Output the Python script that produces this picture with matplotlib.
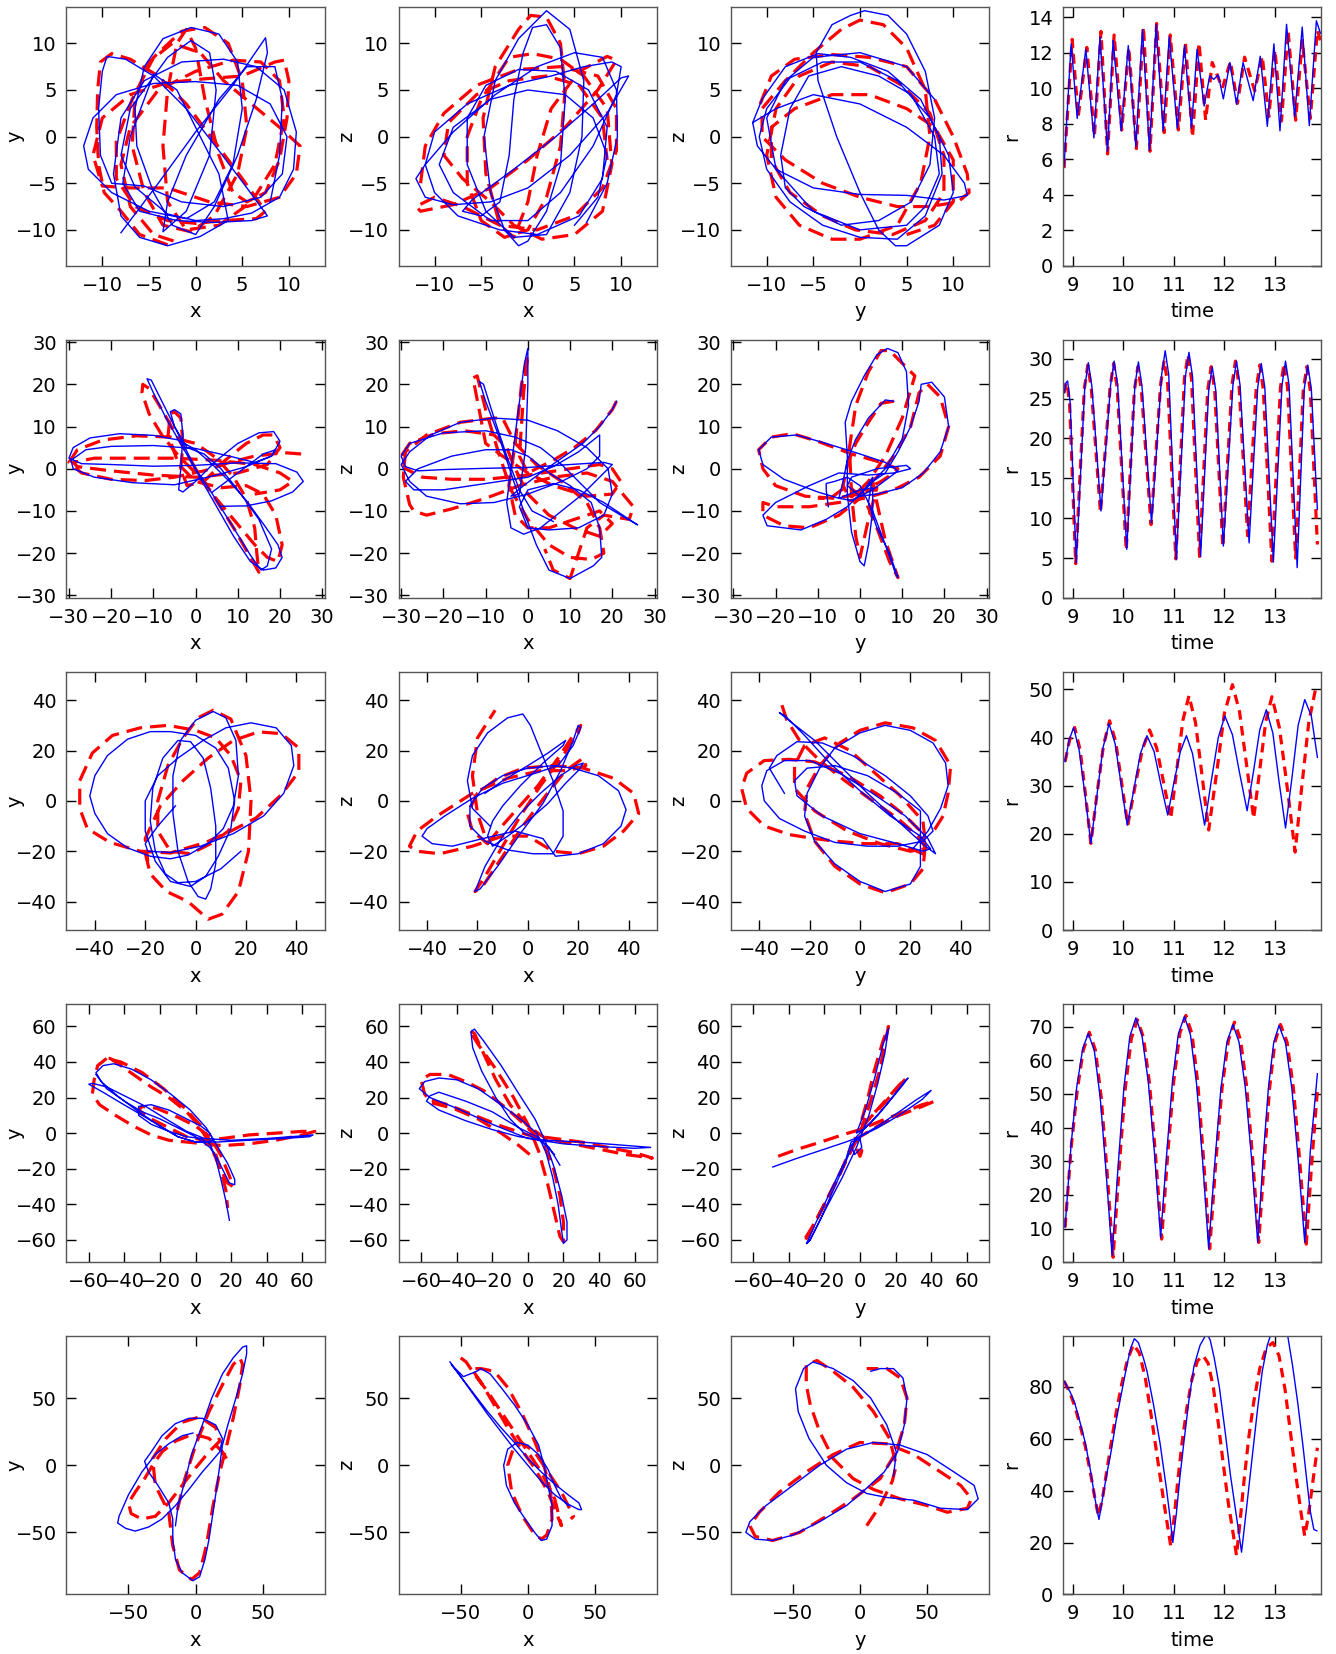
import matplotlib
matplotlib.use('Agg')
import matplotlib.pyplot as plt
import numpy as np

# ---------------- row 1 ----------------
xy_blue_1 = [(-8,-10.3),(-4,-5),(0,0.5),(4,5.5),(7.5,10.6),(7.7,9),(6.5,4),(4.5,-2),(2,-7.5),(0,-10.5),(-2.5,-9.5),(-4.5,-6),(-6.3,-1),(-6.5,3),(-5.5,7.5),(-3.5,10.5),(-0.5,11.7),(2.5,11),(4.5,8),(5,3),(4,-3),(2,-7),(-1,-8.8),(-5,-8),(-9,-6),(-11.5,-3.5),(-12,-1),(-11,2),(-8.5,4.5),(-4.5,5.7),(0,5.9),(4.5,5.5),(8,3.5),(9.8,0),(9.3,-4),(7,-6.5),(3,-7.5),(-1.5,-7),(-5.5,-5.3),(-9,-5),(-10.2,-2),(-10.4,3),(-10,7),(-9.5,8.6),(-7.5,8.3),(-4.5,6.5),(-1,3),(2.5,-1.5),(5.5,-5.5),(7.7,-8.5),(6,-9),(2,-9.2),(-2,-9),(-6,-8),(-7.8,-5),(-7,0),(-4.5,6.7),(-2,5),(0.5,0),(2.5,-4),(3.5,-9),(0.5,-10.7),(-3,-11.7),(-6,-10.8),(-8,-8.5),(-8.8,-4),(-8,2),(-5.5,6),(-1.5,8),(3,8.3),(6.5,7.5),(9.5,5),(10.8,0.5),(10.5,-3.5),(9,-6.5),(6,-8.2),(3,-8.8),(0,-9),(-3,-8.3),(-6.5,-5.4),(-8,-2),(-7,3),(-3,8.5),(-0.5,10.3),(1.5,9),(2.2,5),(1.5,-2),(-1,-8),(-3.5,-10.2),(-3,-7),(-1,-2),(2.5,4),(5.5,7.5),(8.5,7.5),(9.3,4),(9,-2),(8,-7)]
xy_red_1 = [(-3,-11.6),(-6,-10.5),(-8,-8),(-9.8,-6),(-10.4,-3),(-10.6,1),(-10.5,5),(-10.2,8),(-9,8.9),(-7,8.3),(-4,6.5),(-1,3.5),(2,-0.5),(5,-4.5),(7.5,-8),(6.5,-8.8),(3,-9),(0,-9.3),(-3,-9),(-6.5,-7.5),(-8.5,-4.5),(-8.5,-0.5),(-6.8,4),(-4.5,8.5),(-1.5,11.3),(1,11.7),(3.5,10),(5,6),(5.5,1),(4.5,-4),(2,-8.5),(-0.5,-10.2),(-3.5,-9.5),(-5.5,-6),(-6.8,-1),(-6.5,4),(-5,8),(-2.5,10),(0.5,9),(3,6),(6,3.5),(9,1),(11.2,-1),(10.8,-4),(9,-6.5),(5.5,-7.5),(1.5,-7),(-3,-5.5),(-7,-5.5),(-10,-5.3),(-11,-2),(-10,2),(-7,4.5),(-3,5.8),(1,6.2),(5,6.5),(8.5,8),(9.5,8.2),(10,6),(9.8,2),(9,-2.5),(7.5,-6),(5.5,-7),(4,-6),(2.5,-2),(1,4),(0,9.5),(-1,11.5),(-2,10),(-3,5),(-3.5,-1),(-3,-7),(-1,-10),(2.5,-9.5),(6,-7),(8.5,-3),(9.5,2),(9,6),(7,8),(4,8.2),(0,7),(-4,5),(-7,1),(-8,-3),(-7,-7.5),(-4.5,-10.5),(-2,-11.3)]
xz_blue_1 = [(6.3,-9.2),(8.5,-5),(9.6,0),(9.5,5),(8,8.5),(5,9),(1,7.5),(-3.5,4.5),(-8,0.5),(-11,-3),(-12,-4.5),(-11,-6.5),(-8,-7.3),(-4,-7),(0,-5.5),(4.5,-2),(8.5,2.5),(10.8,6.5),(10,6.3),(7,3.5),(3,0),(-1.5,-3.5),(-6,-6.8),(-7,-8),(-5,-8.5),(-3,-7),(-2,-2),(-1.5,4),(-0.5,9),(0.5,11.7),(2,12),(3.5,9.5),(4,4),(3.5,-3),(2,-8),(0,-11.2),(-1,-11.7),(-2.5,-10),(-4,-6),(-4.7,0),(-3.5,6),(-1,10.5),(2,13.5),(4.5,11.5),(6,6),(5.8,0),(4.5,-6),(2,-10.5),(-1.5,-10.8),(-4.5,-8),(-6.5,-3),(-6.5,2),(-4.5,5.5),(-1,7.2),(3,7),(6.5,5),(8.5,1),(8,-4.5),(5.5,-8.5),(1,-10.5),(-3,-10),(-7.5,-8.5),(-10,-6),(-11,-3),(-10,0.5),(-6.5,3.5),(-2,5.5),(2.5,6.5),(6,7.5),(9,8),(10,7.5),(9.5,4.5),(7,-1),(3.5,-6),(0,-9),(-4,-9),(-8,-6),(-9.5,-3),(-8,1),(-4,4),(0,5),(4,4.5),(7,2),(8.5,-2),(7.5,-6.5),(5,-9.5)]
xz_red_1 = [(-11.5,-5),(-11,-1),(-9,2.5),(-5.5,5.5),(-1,7.2),(3.5,7.5),(7.5,6.5),(9.5,3),(9.5,-1.5),(8,-5.5),(5,-8.5),(1,-10),(-3,-9.5),(-7,-7.5),(-10,-6.5),(-12,-7.5),(-11.5,-8),(-8,-7.3),(-4,-5.5),(0,-2.5),(4,1),(7.5,5),(9.5,8.2),(8.5,8.6),(5.5,7),(2.5,3),(1,-2),(0,-7),(-1.5,-10.8),(-3,-9.5),(-4.5,-4),(-4.8,2),(-3.5,7.5),(-1,11.5),(0.3,13),(2,12.8),(3.5,10),(4,5),(3.5,-1),(2,-6.5),(0,-10),(-2.5,-10.8),(-5,-9),(-6.5,-5),(-6.5,0),(-5,4),(-2,8.5),(0.5,8.9),(3.5,8.3),(6,6.5),(8.5,3),(9,-3),(8,-8),(5,-10.5),(1.5,-11),(-1.5,-9.5),(-4,-7),(-7,-4.5),(-9,-2),(-8.5,1.5),(-5.5,4.5),(-2,6),(2,6.5),(5.5,5.5),(8,2),(8.5,-2.5)]
yz_blue_1 = [(-11.5,1.5),(-11,-1),(-9,-3.5),(-5,-5.5),(0,-6.2),(5,-6.3),(9,-6.8),(11.5,-6.3),(11.2,-5),(9,-2),(5,1),(0,3.5),(-5,4.5),(-9,3),(-11.5,1.5),(-10.5,4),(-8,7.5),(-4.5,8.9),(-1,8.5),(3,7),(6.5,4),(8.5,0),(8.8,-4),(7,-8.5),(4,-11),(0,-10.8),(-4,-9.5),(-7.5,-7),(-10,-3.5),(-10.8,0),(-10,3),(-7.5,6.3),(-4,8),(0,8),(4,6),(7.5,2),(9.5,-2),(10,-6),(8.5,-9.5),(5,-11.7),(3.8,-11.7),(2,-10),(0,-6),(-2.5,0),(-4.5,6),(-4.7,9),(-3,12),(-1,13),(0.5,13.5),(3,13),(5,11),(7,7),(8,2),(7.5,-3),(5.5,-7),(2,-9),(-2,-9.5),(-6,-7.5),(-8,-5.5),(-8.5,-2),(-7.5,3),(-5.5,6.5),(-2,7.5),(2,6.5),(5.5,4.5),(8,0),(8.5,-4),(7,-7.5),(5,-9.5),(0,-10),(-5,-8),(-9,-3.5),(-10,2),(-8,6),(-5,8.5),(0,9),(5,7.5),(8,4)]
yz_red_1 = [(-10.7,3.5),(-9.5,6.5),(-7,8.3),(-3,8.8),(1,8.5),(5,7.5),(8,4),(10,0),(11.5,-4),(11.7,-6),(10.5,-7),(7.5,-7.5),(4,-7.5),(0,-6.5),(-4,-5),(-8,-2.5),(-10.5,0),(-10.5,3),(-8,6),(-5,9),(-2,11.5),(0,12.5),(2.5,12),(5,9.5),(7,5),(7.5,0),(6.5,-5),(4,-9.5),(0,-11),(-3,-11),(-6.5,-9.5),(-9,-6.5),(-10,-2),(-9,3),(-6.5,6.5),(-3,8),(1,7.5),(4.5,5.5),(7.5,2.5),(9,-2),(9,-6),(7,-9),(3.5,-10.5),(-0.5,-10),(-4,-8.5),(-7.5,-6),(-9.5,-2.5),(-9.5,1),(-7,3),(-3,4.5),(1,4.5),(5,3),(8,1),(10,-2.5),(10,-7),(8,-9.5),(5,-10.5)]
t_blue_1 = [8.83,8.97,9.09,9.26,9.42,9.54,9.69,9.80,9.96,10.10,10.25,10.38,10.52,10.65,10.79,10.91,11.07,11.21,11.35,11.46,11.60,11.71,11.79,11.88,11.98,12.11,12.24,12.37,12.57,12.71,12.85,12.98,13.10,13.23,13.39,13.54,13.68,13.82,13.90]
r_blue_1 = [5.6,12.5,8.3,12.2,7.2,12.9,6.45,12.7,7.6,12.4,6.7,13.3,6.5,13.6,7.6,12.9,7.75,12.4,7.75,12.2,9.0,10.7,10.5,10.75,9.4,11.45,9.1,11.45,9.3,11.8,7.85,12.5,7.6,13.6,8.4,13.45,7.9,13.8,13.1]
t_red_1 = [8.83,8.99,9.11,9.28,9.43,9.56,9.69,9.82,9.97,10.11,10.26,10.40,10.53,10.66,10.81,10.93,11.09,11.23,11.37,11.50,11.63,11.76,11.96,12.12,12.26,12.40,12.60,12.75,12.88,13.00,13.13,13.26,13.41,13.54,13.70,13.84,13.90]
r_red_1 = [5.5,12.75,8.4,12.3,7.3,13.2,6.3,13.0,7.65,12.3,6.6,13.45,6.45,13.65,7.5,13.0,7.65,12.55,7.25,12.55,8.2,11.45,10.0,11.5,9.15,11.75,9.85,11.8,8.4,12.15,8.15,13.25,8.2,12.7,8.3,13.25,12.7]

# ---------------- row 2 ----------------
xy_blue_2 = [(5.8,-8.9),(12,-8.8),(18,-7.6),(23,-5.5),(25.5,-3),(24,-0.8),(19,1.2),(10,1.4),(0,0.8),(-10,0.6),(-20,1),(-27,1.2),(-30,2.5),(-29,5),(-25,7.3),(-18,8.3),(-10,7.9),(-4,6.8),(0,4.5),(4,1),(8,-3),(12,-7.5),(16,-13),(19.5,-18),(20.5,-21),(19,-23.5),(16,-24),(13,-22),(9,-16),(5,-9),(1,-2),(-3,5),(-7,12),(-10,18),(-11.5,21.3),(-10.5,21),(-8,16),(-4,8),(0,0),(4,-6),(9,-14),(13,-20.5),(15.5,-24),(17,-23),(18,-19),(15,-12),(10,-5),(6,0),(2,3.5),(-2,5),(-5,10),(-6,13.5),(-5,14),(-3.5,13),(-3,8),(-3.5,0),(-4,-5),(-3,-5.5),(0,-3),(5,2),(10,6),(15,8.5),(18.5,8.8),(20,6.5),(18,3),(12,0.5),(5,-1.5),(-5,-3.8),(-15,-3.3),(-24,-2),(-29,0),(-29.5,2),(-26,4.5),(-20,5.3),(-10,5.5),(0,4.8),(8,3),(14,1.5),(18,3),(19,4.5),(16,3.5),(10,-1),(4,-5.5)]
xy_red_2 = [(25,3.5),(21,3.8),(14,3),(8,1.5),(2,-0.5),(-5,-2),(-12,-2.8),(-20,-2.5),(-27,-1),(-30,1.5),(-28,4.5),(-22,6.8),(-14,7.8),(-6,7.5),(0,6),(5,2.5),(9,-2),(12,-7),(14,-14),(14.5,-20),(15,-24.5),(13,-21),(9,-14),(4,-6),(0,-1),(-4,3),(-8,8),(-11,13),(-12.7,18),(-12.5,20),(-11,19),(-8,14),(-4,7),(0,0),(4,-6),(9,-12),(14,-18),(17,-21),(19.5,-22),(20.5,-18),(19,-11),(16,-6),(12,-4),(6,-4.5),(0,-3),(-4,1),(-6.5,8),(-6,13),(-5,13.5),(-3.5,12),(-3,6),(-3.5,0),(-2,-4),(2,-3),(7,2),(12,6),(16,8),(18.5,8),(20,5),(17,1),(10,-1),(0,-2),(-10,-1.5),(-20,-0.5),(-28,0.5),(-29,1.5),(-24,2.5),(-15,2.5),(-5,2.5),(5,2),(14,1),(20,-1),(23,-3),(20,-5),(14,-6)]
xz_blue_2 = [(21,16),(20,14),(17,10),(13,6),(8,2.5),(3,-1),(-1,-4),(-4,-6.5),(-2,-6),(-0.5,5),(0,20),(0,28.5),(-0.8,25),(-2.5,12),(-4,0),(-5,-8),(-4,-14),(-1,-15.5),(3,-14),(8,-10),(13,-6),(18,-1),(20,1),(18,1.5),(10,1),(0,0.3),(-10,0.1),(-20,-0.2),(-26,-0.5),(-29,0.5),(-30,3),(-28,6),(-20,8.5),(-10,9),(-3,7.5),(3,5),(8,1),(12,-3),(17,-8),(22,-11),(26,-13.3),(24,-12),(18,-8),(12,-5),(6,-3.5),(0,-5),(-2,-9),(0,-14),(5,-14.5),(12,-14),(18,-11),(20,-6),(19,0),(14,5),(7,9),(0,11.5),(-8,12),(-16,11),(-23,8),(-28,4),(-30,1),(-28,-3),(-24,-6.5),(-16,-8.3),(-8,-8),(0,-6),(8,-3),(14,0),(17,3),(17,8),(12,4),(6,0.5),(0,-2),(-10,-3.5),(-20,-5),(-27,-5),(-29,-3),(-26,0),(-18,3),(-10,4.5),(-4,4.5),(0,3),(5,-1),(10,-4),(15,-8),(17,-14),(17.5,-21),(15.5,-23),(10,-26),(5,-24),(2,-18),(-1,-10),(-4,-1),(-7,8),(-10,16),(-11.5,20.7),(-10.5,20),(-8,12),(-5,3),(-2,-5),(1,-10),(6,-12.5)]
xz_red_2 = [(21,16),(20,14),(16,9),(11,5),(6,2),(0,-1),(-2,3),(-1,18),(0,27),(-1.5,20),(-3,6),(-4.5,-4),(-3,-11),(0,-14),(5,-14),(11,-12),(17,-10),(20,-13),(17,-16),(11,-14),(5,-11),(0,-6),(-3,0),(-5,5),(-8,8),(-15,9),(-22,8.3),(-28,6),(-30,3),(-29,0),(-25,-2),(-18,-2.5),(-10,-2.5),(0,-1.5),(10,0),(17,1),(20,0),(22,-3),(20,-6),(14,-6.5),(6,-4),(0,-1),(-6,3),(-10,6),(-13,21.5),(-12,22),(-10,14),(-7,4),(-4,-5),(0,-12),(5,-18),(10,-21),(15,-21.5),(18,-20),(17,-14),(14,-8),(8,-3),(2,1),(-3,6),(-6,12),(-8,12),(-16,11),(-24,8),(-29,4),(-29.5,-2),(-28,-8.5),(-27,-10),(-24,-11),(-18,-9.5),(-10,-7),(-2,-4),(6,-2),(14,-1),(20,-3),(25,-9),(24,-12),(18,-11),(14,-14),(12,-20),(10,-26),(6,-24),(4,-19)]
yz_blue_2 = [(8,16),(6,16.3),(2,12),(-1,7),(-3,2),(-4,-3),(-5,-7),(-2,-7.5),(3,-5),(7,-2),(9,-0.5),(6,1.5),(0,3.5),(-8,6),(-15,8),(-21,7.5),(-24,4.5),(-23,1),(-18,-2.5),(-10,-5.5),(-5,-7),(0,-5),(3,-4.5),(3,-10),(2,-18),(1,-23),(0,-22),(-2,-15),(-3,-6),(-3,3),(-3.5,11),(-2,16),(1,22),(4,27),(6.5,28.5),(9,27.5),(11,23),(11.5,15),(10,7),(6,0),(2,-4),(0,-6),(3,-3),(6,-1),(9,4),(12,10),(14,16),(14.5,20),(17,20.5),(20,17),(21,10),(19,4),(15,-1),(10,-4.5),(4,-6),(0,-6.5),(-3,-4),(-2,-2),(4,0),(11,0.8),(12,0),(8,-1),(2,-1.5),(-5,-1),(-12,-4),(-20,-8),(-23,-11),(-22,-13.5),(-14,-14.5),(-8,-12),(-3,-9),(1,-5),(3,-2),(2,-8),(4,-14),(7,-20),(9,-25.8),(8.5,-25),(6,-18),(3,-10),(0,-4),(-3,-2),(-6,-3),(-8,-3.5),(-8,-5),(-7.5,-9)]
yz_red_2 = [(8,16),(5,15.5),(2,11),(-1,6),(-3,1),(-4,-4),(-3,-6),(1,-5),(5,-3),(8,-1),(9,0),(5,1.5),(-2,3.5),(-10,6.5),(-16,8.3),(-21,7.5),(-24,4.5),(-23,0),(-20,-4),(-13,-6.5),(-6,-7),(0,-6),(4,-4.5),(2,-12),(0,-21),(-1,-16),(-2,-6),(-2.5,5),(-1,15),(2,23),(5,28),(7,28),(10,25),(13,22),(10,12),(6,3),(2,-3),(0,-5),(4,-2),(8,3),(12,10),(14,18),(16,20),(19,17),(21,10),(19,3),(14,-2),(8,-5),(1,-7),(-5,-8),(-12,-9),(-20,-9),(-23,-8),(-23,-11),(-18,-13.5),(-12,-14),(-5,-11),(0,-7),(3,-3),(4,-8),(6,-17),(9,-25.8),(7,-22),(4,-14),(1,-7),(-3,-4),(-7,-7),(-10,-7)]
t_blue_2 = [8.83,8.87,8.90,8.95,9.07,9.24,9.31,9.38,9.56,9.75,9.82,9.89,10.07,10.23,10.30,10.37,10.56,10.76,10.83,10.90,11.05,11.23,11.30,11.37,11.53,11.69,11.76,11.83,11.98,12.17,12.24,12.31,12.49,12.66,12.73,12.80,12.97,13.14,13.21,13.28,13.44,13.58,13.65,13.72,13.84]
r_blue_2 = [25.7,27.0,27.2,24.5,4.4,26.5,29.5,26.5,10.9,26.7,29.7,26.7,6.1,26.6,29.6,26.6,9.4,28.0,31.0,28.0,4.8,27.8,30.8,27.8,5.2,26.0,29.0,26.0,6.5,26.7,29.7,26.7,6.9,26.4,29.4,26.4,4.5,26.7,29.7,26.7,3.8,26.2,29.2,26.2,11.1]
t_red_2 = [8.83,8.86,8.89,8.94,9.06,9.23,9.30,9.37,9.55,9.74,9.81,9.88,10.06,10.22,10.29,10.36,10.55,10.74,10.81,10.88,11.04,11.21,11.28,11.35,11.51,11.67,11.74,11.81,11.97,12.15,12.22,12.29,12.46,12.63,12.70,12.77,12.94,13.11,13.18,13.25,13.41,13.56,13.63,13.70,13.84]
r_red_2 = [25.7,26.8,27.0,24.3,4.3,26.2,29.2,26.2,10.7,26.4,29.4,26.4,6.0,26.0,29.0,26.0,9.2,26.8,29.8,26.8,4.9,27.5,30.5,27.5,5.2,26.0,29.0,26.0,6.4,26.7,29.7,26.7,7.8,26.2,29.2,26.2,4.6,26.4,29.4,26.4,5.0,26.0,29.0,26.0,6.7]

# ---------------- row 3 ----------------
xy_blue_3 = [(18,-20),(10,-27),(0,-32),(-7,-32.5),(-12,-29),(-16,-20),(-18,-8),(-17,5),(-13,17),(-7,24),(-2,23.5),(3,17),(6,5),(8,-10),(8,-25),(6,-35),(4,-39),(1,-38),(-3,-32),(-7,-20),(-9,-5),(-9,10),(-6,24),(0,32),(7,35.5),(12,33),(16,24),(17,10),(15,-2),(11,-11),(5,-17),(-3,-21.5),(-10,-23),(-18,-22),(-27,-18.7),(-35,-13),(-40,-5),(-42,2),(-40,10),(-35,18),(-27,24.5),(-18,27.5),(-10,27.5),(0,26),(8,21),(13,13),(15.5,0),(14,-11),(9,-22),(4,-30),(-2,-34),(-10,-32),(-16,-24),(-20,-12),(-20,0),(-15,10),(-7,17),(3,24),(12,29),(22,31),(32,29),(38,22),(39,14),(35,3),(27,-6),(15,-13),(2,-18),(-10,-20.5),(-19,-20),(-20,-17),(-15,-10),(-8,-2)]
xy_red_3 = [(-20,-20.7),(-18,-29),(-11.5,-36),(-3,-40),(5,-47),(10.5,-45),(17,-36),(21,-20),(22,0),(20,18),(14,32.5),(7,36),(1,33),(-5,25),(-11,14),(-15,0),(-15,-12),(-10,-20),(-2,-21),(6,-17),(13,-12),(17,-3),(18,8),(14,18),(8,25),(0,28),(-11,30),(-22,29),(-33,26),(-41,19),(-46,8),(-46,-3),(-43,-11),(-34,-16.5),(-22,-20),(-10,-20.7),(4,-16.5),(14,-12),(24,-6.8),(34,2.4),(41,11.6),(41,21),(34,26.7),(25,27.4),(15,24),(5,17),(-5,8),(-14,-2),(-20,-15),(-19,-24)]
xz_blue_3 = [(-17,3),(-10,8),(0,14),(8,19),(15,24),(14,22),(6,15),(-3,6),(-10,-2),(-14,-8),(-16,-14),(-14,-18),(-8,-14),(0,-8),(8,-1),(15,7),(20,12),(22,15),(19,14),(13,10),(5,3),(-3,-5),(-10,-14),(-17,-26),(-21,-36),(-19,-35),(-12,-26),(-3,-13),(6,-1),(13,12),(18,24),(20,30),(21,29),(18,22),(12,14),(3,11),(-10,7),(-22,1),(-33,-6),(-40,-11),(-42,-14),(-38,-17),(-30,-18),(-18,-15),(-5,-12),(6,-15),(11,-22),(20,-21),(30,-17),(37,-10),(39,-3.5),(36,4),(28,10),(18,13),(10,14),(0,13),(-10,10),(-18,5),(-23,-2),(-23,-10),(-17,-16),(-8,-19.5),(2,-21),(10,-21),(14,-14),(14,-4),(10,8),(5,20),(1,30),(-2,34.5),(-8,33),(-16,27),(-22,18),(-24,8),(-22,-3),(-15,-10)]
xz_red_3 = [(-16,-17),(-12,-12),(-5,-4),(4,6),(12,17),(18,26),(21,30),(20,27),(14,18),(5,6),(-3,-6),(-10,-18),(-17,-30),(-21,-36),(-18,-34),(-10,-22),(-2,-10),(7,2),(15,12),(22,17),(23,14),(16,12),(5,12),(-8,9),(-22,3),(-36,-6),(-44,-12),(-47,-18),(-44,-20),(-35,-21),(-22,-18),(-10,-14),(0,-14),(10,-20),(20,-21),(30,-18),(38,-12),(44,-5),(42,3),(34,9),(22,13),(10,14),(-2,13),(-12,9),(-20,3),(-24,-5),(-22,-12),(-16,-17),(-20,-5),(-22,10),(-20,25),(-13,36)]
yz_blue_3 = [(-30,3),(-33,8),(-36,13),(-33,18),(-25,23.5),(-15,23),(-3,18),(10,10),(20,2),(27,-6),(29,-12),(25,-16),(15,-18),(3,-18),(-10,-16.5),(-22,-12),(-32,-7),(-38,0),(-39,6),(-37,12),(-30,16),(-20,16),(-8,11),(5,3),(18,-6),(27,-15),(30,-21),(26,-18),(15,-8),(3,3),(-8,14),(-18,24),(-27,31),(-32,35),(-30,34),(-22,26),(-12,15),(0,4),(12,-6),(24,-14),(28,-19),(25,-20),(15,-17),(0,-13),(-15,-6),(-25,2),(-26,8),(-21,13),(-10,14),(3,10),(15,3),(24,-4),(24,-15),(24,-26),(20,-33),(10,-36),(0,-32),(-10,-25),(-18,-16),(-22,-6),(-21,3),(-16,13),(-10,21),(0,27),(10,30),(20,28),(29,23),(34,15),(35,6),(32,-3),(27,-12),(21,-19)]
yz_red_3 = [(-31,38),(-29,32),(-24,24),(-16,16),(-6,8),(5,0),(15,-7),(23,-14),(27,-20),(25,-21),(15,-17),(2,-17),(-10,-16),(-20,-14.7),(-28,-13.4),(-38,-10),(-45,-3),(-47,5),(-45,11),(-38,16),(-28,16.5),(-18,15.5),(-5,10),(8,2),(18,-6),(25,-13),(26,-19),(20,-20),(8,-17),(-5,-12),(-18,-4),(-26,5),(-26,14),(-22,22),(-14,25),(-4,20),(6,11),(16,2),(25,-8),(26,-17),(25,-27),(20,-33),(10,-36.5),(0,-33),(-10,-26),(-18,-16),(-22,-5),(-21,5),(-16,14),(-8,23),(0,28),(10,31),(21,29),(30,24),(36,14),(35,3),(33,-6),(28,-14)]
t_blue_3 = [8.85,8.93,9.02,9.13,9.25,9.36,9.48,9.60,9.72,9.84,9.96,10.08,10.21,10.34,10.47,10.61,10.74,10.88,11.00,11.13,11.25,11.37,11.49,11.61,11.74,11.88,12.01,12.16,12.30,12.45,12.58,12.70,12.83,12.96,13.08,13.21,13.34,13.46,13.59,13.72,13.84]
r_blue_3 = [35.0,39.5,42.1,37.3,27.6,18.0,28.0,37.9,42.9,38.7,30.2,21.8,29.2,36.7,40.4,37.1,30.5,23.9,30.5,37.1,40.4,36.7,29.2,21.8,30.9,40.0,44.5,40.6,32.7,24.8,33.2,41.6,45.8,40.9,31.0,21.2,31.9,42.6,47.9,44.5,35.9]
t_red_3 = [8.85,8.94,9.04,9.15,9.26,9.36,9.48,9.61,9.73,9.85,9.97,10.09,10.23,10.38,10.52,10.66,10.80,10.94,11.06,11.18,11.30,11.43,11.56,11.69,11.85,12.00,12.16,12.30,12.44,12.58,12.70,12.82,12.94,13.09,13.25,13.40,13.53,13.67,13.80,13.86]
r_red_3 = [35.0,39.5,42.1,37.3,27.6,18.0,28.2,38.4,43.5,39.2,30.5,21.8,29.7,37.6,41.6,37.9,30.6,23.2,33.4,43.6,48.7,43.1,32.0,20.8,32.9,45.0,51.0,45.4,34.3,23.2,33.3,43.4,48.5,42.0,29.1,16.2,29.7,43.2,49.9,49.5]

# ---------------- row 4 ----------------
xy_blue_4 = [(19,-49),(17,-38),(14,-25),(11,-13),(8,-6),(3,-3),(-5,-2),(-15,1),(-25,5),(-32,10),(-32,15),(-25,16),(-15,13),(-5,8),(3,4),(8,0),(10,-4),(5,-5),(0,-5),(-10,-2),(-20,4),(-30,10),(-42,17),(-52,23),(-60,27.5),(-58,28),(-50,26),(-40,21),(-28,15),(-15,7),(-5,1),(5,-3),(20,-4),(40,-3),(60,-1.5),(66,-1),(64,-2),(50,-3),(30,-4),(12,-5),(0,-5),(-10,-2),(-20,4),(-32,12),(-44,21),(-53,29),(-56,34),(-52,38),(-46,39),(-36,36),(-25,30),(-14,22),(-3,13),(6,3),(12,-7),(18,-17),(22,-26),(22,-29),(19,-28),(16,-22),(12,-14),(8,-8),(0,-2),(-10,3),(-20,8),(-30,12),(-40,18),(-50,25),(-56,33)]
xy_red_4 = [(-50,42),(-55,38),(-57,30),(-58,22),(-54,16),(-45,10),(-35,4),(-25,-1),(-15,-4),(-5,-5),(5,-6),(15,-7),(30,-6),(45,-4),(60,-1),(67,1),(60,1),(45,0),(30,-1),(15,-3),(5,-4),(-5,-2),(-15,3),(-25,8),(-32,13),(-30,15),(-22,14),(-10,9),(0,4),(8,-2),(14,-12),(19,-24),(21,-30),(18,-28),(13,-18),(8,-6),(2,4),(-5,12),(-15,20),(-25,26),(-35,33),(-42,38),(-48,42),(-50,42),(-42,40),(-30,34),(-18,25),(-6,14),(4,3),(10,-8),(14,-20),(17,-32),(18,-42)]
xz_blue_4 = [(18,-18),(12,-8),(5,-2),(-5,3),(-20,12),(-35,18),(-50,23),(-55,21),(-57,18),(-50,13),(-35,7),(-20,2),(-5,-2),(10,-4),(30,-5),(50,-6.5),(69,-8),(60,-8.5),(40,-7.5),(20,-6),(0,-3),(-20,5),(-40,14),(-55,20),(-61,25),(-58,29),(-50,31),(-40,30),(-28,25),(-15,16),(-3,7),(5,0),(10,-10),(14,-25),(17,-40),(19,-55),(20,-62),(22,-60),(22,-50),(19,-35),(15,-20),(10,-5),(4,8),(-5,22),(-15,38),(-25,52),(-30,58.5),(-32,57),(-31,48),(-26,35),(-18,20),(-10,8),(-2,0),(8,-5),(15,-12)]
xz_red_4 = [(1,-12),(-5,-7),(-15,0),(-28,8),(-42,14),(-54,17),(-58,22),(-60,30),(-55,33),(-45,33),(-35,29),(-25,24),(-12,14),(-2,5),(8,-5),(14,-18),(18,-35),(20,-50),(20,-61),(18,-58),(15,-45),(11,-28),(6,-10),(0,5),(-8,20),(-18,36),(-28,50),(-33,58),(-30,56),(-25,45),(-18,30),(-10,16),(0,4),(10,-3),(25,-6),(40,-9),(55,-12),(70,-14),(60,-11),(45,-8),(30,-5),(15,-3),(0,-1),(-15,4),(-30,10),(-45,16),(-56,19)]
yz_blue_4 = [(-49,-19),(-35,-14),(-20,-9),(-8,-5),(0,-2),(10,4),(22,12),(32,19),(40,24),(35,19),(22,10),(10,3),(0,-2),(-5,-7),(-3,-12),(1,-8),(0,-3),(-5,-5),(-8,-15),(-13,-25),(-20,-40),(-26,-53),(-30,-62),(-28,-60),(-20,-44),(-10,-25),(-2,-8),(5,10),(10,28),(14,45),(16,59),(13,50),(8,30),(3,13),(-2,0),(3,3),(10,10),(18,20),(25,29),(27,31),(24,27),(15,16),(6,6),(-2,-2),(-8,-16),(-15,-32),(-22,-48),(-28,-60),(-30,-62)]
yz_red_4 = [(-46,-13),(-35,-9),(-22,-5),(-10,-1),(0,2),(12,7),(25,12),(35,16),(42,18),(35,15),(22,10),(10,4),(0,-2),(-3,-6),(0,-13),(1,-10),(-2,-4),(-6,-10),(-12,-25),(-20,-40),(-27,-53),(-32,-61),(-29,-58),(-20,-40),(-10,-20),(0,0),(6,18),(11,35),(14,50),(16,60),(13,52),(8,35),(4,18),(0,4),(5,8),(12,15),(20,24),(26,31),(22,27),(14,18),(5,8),(-3,-3)]
t_blue_4 = [8.85,8.97,9.08,9.20,9.31,9.43,9.545,9.66,9.78,9.90,10.015,10.13,10.25,10.37,10.495,10.62,10.74,10.86,10.975,11.09,11.21,11.33,11.45,11.57,11.69,11.81,11.93,12.05,12.17,12.29,12.415,12.54,12.66,12.765,12.87,12.975,13.08,13.21,13.335,13.46,13.59,13.70,13.84]
r_blue_4 = [10.4,35,52,63.5,68,62.7,48.9,27.1,2,28.8,52.1,67.0,72.6,67.4,53.7,32.2,7.4,32.3,54.0,67.8,73,67.5,53,30.2,4.0,29.3,51.3,65.3,70.6,65.4,51.8,30.5,5.9,30.4,51.6,65.1,70.3,65.1,51.6,30.4,5.9,33,56]
t_red_4 = [8.85,8.97,9.09,9.21,9.33,9.45,9.565,9.68,9.80,9.92,10.04,10.16,10.28,10.40,10.52,10.64,10.76,10.88,11.00,11.12,11.24,11.36,11.475,11.59,11.71,11.83,11.955,12.08,12.20,12.32,12.44,12.56,12.68,12.79,12.895,13.00,13.11,13.24,13.365,13.49,13.62,13.73,13.84]
r_red_4 = [10.4,34,51,63,68.3,63.0,48.9,26.9,1.5,28.3,51.6,66.4,72.0,66.8,53.1,31.6,6.9,32.1,54.0,68.0,73.3,67.8,53.2,30.3,4.0,29.6,51.8,65.9,71.3,66.1,52.3,30.8,5.9,30.5,51.8,65.4,70.6,65.4,51.7,30.2,5.4,30,51]

# ---------------- row 5 ----------------
xy_blue_5 = [(-2,24),(-10,22),(-20,16),(-30,8),(-40,-5),(-50,-22),(-57,-38),(-58,-43),(-52,-47),(-45,-49),(-35,-46),(-25,-40),(-15,-30),(-5,-18),(5,-5),(12,3),(18,10),(20,20),(15,30),(5,35),(-5,35),(-15,31),(-25,22),(-33,10),(-38,3),(-35,-5),(-28,-15),(-20,-28),(-17,-40),(-17,-55),(-15,-70),(-10,-80),(-2,-86),(3,-83),(7,-70),(10,-55),(13,-35),(16,-15),(18,0),(20,15),(24,30),(30,50),(35,68),(38,83),(38,89),(35,88),(28,80),(20,68),(12,50),(5,30),(-3,8),(-8,-12),(-13,-30),(-15,-45)]
xy_red_5 = [(23,5),(20,10),(10,20),(3,22),(-5,22),(-15,18),(-25,10),(-32,0),(-38,-10),(-45,-20),(-50,-28),(-48,-36),(-40,-40),(-30,-38),(-20,-28),(-10,-15),(0,-2),(10,10),(18,18),(15,28),(3,36),(-10,32),(-22,20),(-32,5),(-30,-15),(-20,-35),(-17,-60),(-12,-78),(-3,-85),(3,-80),(8,-60),(13,-30),(18,-5),(22,10),(28,35),(33,60),(35,75),(33,80),(28,75),(20,60),(10,40),(0,15),(-8,-10),(-14,-35)]
xz_blue_5 = [(-58,77),(-50,66),(-40,52),(-30,38),(-20,25),(-10,12),(0,0),(10,-12),(20,-22),(30,-29),(38,-33),(40,-33),(38,-28),(30,-22),(20,-14),(10,-5),(0,5),(-10,17),(-20,28),(-30,40),(-40,53),(-50,66),(-57,75),(-56,74),(-48,66),(-38,70),(-35,72),(-28,68),(-20,58),(-10,45),(0,30),(8,15),(12,0),(15,-15),(18,-30),(18,-45),(14,-55),(10,-56),(5,-50),(-2,-40),(-10,-28),(-16,-15),(-18,0),(-15,12),(-8,17),(0,15),(8,8),(15,-3),(20,-15),(25,-25),(30,-30)]
xz_red_5 = [(-50,80),(-46,77),(-40,68),(-30,55),(-20,40),(-10,25),(0,10),(10,-5),(20,-25),(25,-45),(23,-40),(15,-20),(5,-2),(-5,12),(-15,28),(-25,45),(-35,62),(-42,72),(-35,72),(-25,70),(-15,58),(-5,40),(5,18),(12,0),(17,-20),(18,-40),(14,-52),(10,-55),(4,-50),(-4,-38),(-12,-20),(-15,0),(-10,15),(-5,17),(5,10),(15,-5),(25,-20),(34,-38),(32,-40)]
yz_blue_5 = [(25,-8),(27,10),(20,30),(8,50),(-5,63),(-20,72),(-35,77),(-42,72),(-48,57),(-46,40),(-38,20),(-25,0),(-10,-13),(5,-21),(20,-24),(40,-26),(60,-32),(80,-33),(88,-25),(85,-15),(70,-5),(50,8),(30,15),(10,17),(-10,12),(-30,0),(-50,-15),(-70,-30),(-82,-42),(-85,-50),(-78,-55),(-65,-56),(-50,-52),(-30,-42),(-10,-30),(5,-17),(18,-5),(28,10),(33,30),(35,50),(32,65),(25,72),(15,72),(8,70)]
yz_red_5 = [(5,-45),(15,-30),(24,-12),(27,0),(22,20),(10,40),(-5,58),(-20,70),(-32,78),(-40,75),(-40,60),(-37,45),(-30,25),(-20,5),(-5,-10),(10,-18),(30,-25),(50,-30),(65,-35),(80,-32),(83,-25),(75,-15),(60,-5),(40,8),(20,16),(0,17),(-20,8),(-40,-5),(-60,-20),(-75,-35),(-82,-45),(-78,-53),(-65,-56),(-45,-50),(-25,-38),(-5,-25),(15,-10),(27,10),(33,30),(35,50),(30,65),(20,72),(5,72)]
t_blue_5 = [8.83,8.95,9.04,9.15,9.25,9.35,9.44,9.52,9.60,9.68,9.76,9.86,9.97,10.08,10.15,10.22,10.30,10.40,10.47,10.60,10.73,10.86,10.93,10.98,11.05,11.12,11.19,11.30,11.40,11.52,11.65,11.72,11.80,11.90,12.02,12.12,12.24,12.34,12.42,12.50,12.58,12.66,12.75,12.85,12.95,13.10,13.25,13.35,13.45,13.55,13.63,13.70,13.77,13.83]
r_blue_5 = [82.2,78,73.8,66,58.4,48,37,28.9,38,47,55,67,78,89,95,98.5,97,91,86,73,58,40,29,20,31,45,57,75,88,96,100.5,98,91,80,62,46,30,16.3,30,44,58,72,86,96,102,105,100,88,74,58,44,32,25,24.5]
t_red_5 = [8.83,8.95,9.05,9.15,9.25,9.35,9.44,9.51,9.59,9.67,9.76,9.86,9.97,10.08,10.20,10.32,10.44,10.56,10.68,10.80,10.88,10.94,11.01,11.08,11.16,11.26,11.36,11.47,11.58,11.68,11.78,11.88,11.98,12.08,12.17,12.24,12.31,12.39,12.48,12.58,12.70,12.83,12.96,13.08,13.20,13.31,13.42,13.52,13.59,13.66,13.74,13.84]
r_red_5 = [82.2,77.5,72,65,57,47,37,30.2,37,47,58,70,81,90,96.3,93,83,68,52,36,26,18.6,30,44,58,72,83,90,92,89,80,66,50,35,24,15,28,44,60,74,87,95,97,92,79,62,45,31,22.5,30,42,56.5]

# panel settings per row
lims = [13.85, 30.6, 51.3, 72.6, 96.2]
ticks = [[-10, -5, 0, 5, 10], [-30, -20, -10, 0, 10, 20, 30], [-40, -20, 0, 20, 40],
         [-60, -40, -20, 0, 20, 40, 60], [-50, 0, 50]]
r_tops = [14.55, 32.4, 53.7, 76.7, 99.5]
r_ticks = [list(range(0, 15, 2)), list(range(0, 31, 5)), list(range(0, 51, 10)),
           list(range(0, 71, 10)), list(range(0, 81, 20))]

proj = [[(xy_blue_1, xy_red_1), (xz_blue_1, xz_red_1), (yz_blue_1, yz_red_1)],
        [(xy_blue_2, xy_red_2), (xz_blue_2, xz_red_2), (yz_blue_2, yz_red_2)],
        [(xy_blue_3, xy_red_3), (xz_blue_3, xz_red_3), (yz_blue_3, yz_red_3)],
        [(xy_blue_4, xy_red_4), (xz_blue_4, xz_red_4), (yz_blue_4, yz_red_4)],
        [(xy_blue_5, xy_red_5), (xz_blue_5, xz_red_5), (yz_blue_5, yz_red_5)]]
rseries = [((t_blue_1, r_blue_1), (t_red_1, r_red_1)),
           ((t_blue_2, r_blue_2), (t_red_2, r_red_2)),
           ((t_blue_3, r_blue_3), (t_red_3, r_red_3)),
           ((t_blue_4, r_blue_4), (t_red_4, r_red_4)),
           ((t_blue_5, r_blue_5), (t_red_5, r_red_5))]
labels = [('x', 'y'), ('x', 'z'), ('y', 'z'), ('time', 'r')]

plt.rcParams['font.family'] = 'DejaVu Sans'
plt.rcParams['font.size'] = 14

fig = plt.figure(figsize=(13.36, 16.54), dpi=100)
lefts = [0.0497, 0.2984, 0.5470, 0.7957]
bottoms = [0.8393, 0.6385, 0.4377, 0.2368, 0.0360]
w, h = 0.1934, 0.1562


def style(ax, xl, yl):
    ax.tick_params(direction='in', top=True, right=True, length=7, width=1,
                   labelsize=14, pad=7, colors='black')
    for s in ax.spines.values():
        s.set_color('#555555')
        s.set_linewidth(1)
    ax.set_xlabel(xl, fontsize=14, va='center')
    ax.set_ylabel(yl, fontsize=14, va='center')
    ax.xaxis.set_label_coords(0.5, -0.178)
    ax.yaxis.set_label_coords(-0.2, 0.5)


for i in range(5):
    for j in range(3):
        ax = fig.add_axes([lefts[j], bottoms[i], w, h])
        blue, red = proj[i][j]
        rx, ry = np.array(red).T
        bx, by = np.array(blue).T
        ax.plot(rx, ry, color='#ff0000', lw=2.3, ls='--', dashes=(5, 2.5),
                solid_joinstyle='round', dash_joinstyle='round')
        ax.plot(bx, by, color='#0000ff', lw=1.0, solid_joinstyle='round')
        ax.set_xlim(-lims[i], lims[i])
        ax.set_ylim(-lims[i], lims[i])
        ax.set_xticks(ticks[i])
        ax.set_yticks(ticks[i])
        style(ax, *labels[j])
    ax = fig.add_axes([lefts[3], bottoms[i], w, h])
    (tb, rb), (tr, rr) = rseries[i]
    ax.plot(tr, rr, color='#ff0000', lw=2.3, ls='--', dashes=(3, 2))
    ax.plot(tb, rb, color='#0000ff', lw=1.0)
    ax.set_xlim(8.81, 13.92)
    ax.set_ylim(0, r_tops[i])
    ax.set_xticks([9, 10, 11, 12, 13])
    ax.set_yticks(r_ticks[i])
    style(ax, *labels[3])

fig.savefig('out.png', dpi=100)
